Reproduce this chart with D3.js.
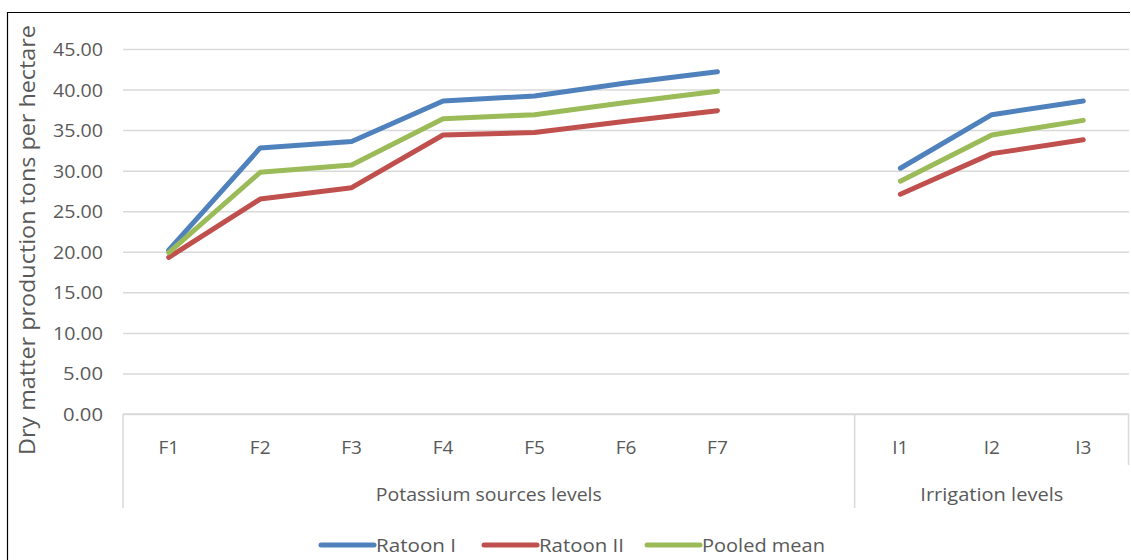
<!DOCTYPE html>
<html>
<head>
<meta charset="utf-8">
<script src="https://cdn.jsdelivr.net/npm/d3@7"></script>
<style>
  html, body { margin: 0; padding: 0; background: #fff; }
  svg { display: block; font-family: "Open Sans", sans-serif; }
</style>
</head>
<body>
<svg id="chart" width="1131" height="560"></svg>
<script>
// ---- data ----
const potassiumLevels = ["F1", "F2", "F3", "F4", "F5", "F6", "F7"];
const irrigationLevels = ["I1", "I2", "I3"];
const groupLabels = ["Potassium sources levels", "Irrigation levels"];
const seriesNames = ["Ratoon I", "Ratoon II", "Pooled mean"];
const seriesColors = ["#4F81BD", "#C0504D", "#9BBB59"];

const ratoon1Potassium = [20.2, 32.8, 33.6, 38.6, 39.2, 40.8, 42.2];
const ratoon2Potassium = [19.3, 26.5, 27.9, 34.4, 34.7, 36.1, 37.4];
const pooledPotassium  = [19.9, 29.8, 30.7, 36.4, 36.9, 38.4, 39.8];

const ratoon1Irrigation = [30.3, 36.9, 38.6];
const ratoon2Irrigation = [27.1, 32.1, 33.8];
const pooledIrrigation  = [28.7, 34.4, 36.2];

const yTicks = [0, 5, 10, 15, 20, 25, 30, 35, 40, 45];
const yTitle = "Dry matter production tons per hectare";

// ---- layout ----
const svg = d3.select("#chart");
const plotLeft = 123, plotRight = 1129, plotTop = 49, plotBottom = 414;
const textColor = "#595959";

const categories = [...potassiumLevels, "__gap__", ...irrigationLevels];
const x = d3.scaleBand().domain(categories).range([plotLeft, plotRight]).paddingInner(0).paddingOuter(0);
const y = d3.scaleLinear().domain([0, 45]).range([plotBottom, plotTop]);

// outer border (left/top visible)
svg.append("path")
  .attr("d", `M7.5,565 V12.5 H1130`)
  .attr("fill", "none").attr("stroke", "#000").attr("stroke-width", 1.2);

// gridlines + y labels via axis
const yAxis = d3.axisLeft(y).tickValues(yTicks).tickSize(-(plotRight - plotLeft)).tickFormat(d3.format(".2f")).tickPadding(20);
const gy = svg.append("g").attr("transform", `translate(${plotLeft},0)`).call(yAxis);
gy.select(".domain").remove();
gy.selectAll(".tick line").attr("stroke", "#D9D9D9").attr("stroke-width", 1.5);
gy.selectAll(".tick text").attr("fill", textColor).attr("font-size", 19)
  .attr("font-family", "Open Sans, sans-serif").attr("dy", "0.34em")
  .attr("textLength", 50).attr("lengthAdjust", "spacingAndGlyphs");
gy.selectAll(".tick text").filter(d => d < 10).attr("textLength", 40);

// x axis line
svg.append("line").attr("x1", plotLeft).attr("x2", plotRight).attr("y1", y(0)).attr("y2", y(0))
  .attr("stroke", "#D9D9D9").attr("stroke-width", 1.5);

// group dividers
const dividers = [[x(potassiumLevels[0]), 508], [x(irrigationLevels[0]), 508], [plotRight - 0.5, 465]];
svg.selectAll(".divider").data(dividers).enter().append("line")
  .attr("x1", d => d[0]).attr("x2", d => d[0]).attr("y1", y(0)).attr("y2", d => d[1])
  .attr("stroke", "#D9D9D9").attr("stroke-width", 1.5);

// category labels
const catLabels = [...potassiumLevels, ...irrigationLevels];
svg.selectAll(".cat").data(catLabels).enter().append("text")
  .attr("x", d => x(d) + x.bandwidth() / 2).attr("y", 454)
  .attr("text-anchor", "middle").attr("fill", textColor).attr("font-size", 19)
  .text(d => d);

// group labels
const groupCenters = [
  (x(potassiumLevels[0]) + x(irrigationLevels[0])) / 2,
  (x(irrigationLevels[0]) + plotRight) / 2
];
const groupWidths = [226, 143];
svg.selectAll(".grp").data(groupLabels).enter().append("text")
  .attr("x", (d, i) => groupCenters[i]).attr("y", 501)
  .attr("text-anchor", "middle").attr("fill", textColor).attr("font-size", 19)
  .attr("textLength", (d, i) => groupWidths[i]).attr("lengthAdjust", "spacingAndGlyphs")
  .text(d => d);

// y title
svg.append("text")
  .attr("transform", `translate(35,${(25 + 455) / 2}) rotate(-90)`)
  .attr("text-anchor", "middle").attr("fill", textColor).attr("font-size", 21)
  .attr("textLength", 430).attr("lengthAdjust", "spacingAndGlyphs")
  .text(yTitle);

// lines
const potassiumSeries = [ratoon1Potassium, ratoon2Potassium, pooledPotassium];
const irrigationSeries = [ratoon1Irrigation, ratoon2Irrigation, pooledIrrigation];
const line = d3.line().x(d => x(d[0]) + x.bandwidth() / 2).y(d => y(d[1]));
[0, 1, 2].forEach(i => {
  svg.append("path")
    .datum(potassiumLevels.map((c, k) => [c, potassiumSeries[i][k]]))
    .attr("d", line).attr("fill", "none").attr("stroke", seriesColors[i])
    .attr("stroke-width", 5).attr("stroke-linejoin", "round").attr("stroke-linecap", "round");
  svg.append("path")
    .datum(irrigationLevels.map((c, k) => [c, irrigationSeries[i][k]]))
    .attr("d", line).attr("fill", "none").attr("stroke", seriesColors[i])
    .attr("stroke-width", 5).attr("stroke-linejoin", "round").attr("stroke-linecap", "round");
});

// legend
const legendStarts = [321, 484, 647];
const legendWidths = [80, 85, 123];
const lg = svg.selectAll(".lg").data(seriesNames).enter().append("g")
  .attr("transform", (d, i) => `translate(${legendStarts[i]},545)`);
lg.append("line").attr("x1", 0).attr("x2", 53).attr("y1", 0).attr("y2", 0)
  .attr("stroke", (d, i) => seriesColors[i]).attr("stroke-width", 5).attr("stroke-linecap", "round");
lg.append("text").attr("x", 55).attr("y", 0).attr("dy", "0.35em")
  .attr("fill", textColor).attr("font-size", 19)
  .attr("textLength", (d, i) => legendWidths[i]).attr("lengthAdjust", "spacingAndGlyphs")
  .text(d => d);
</script>
</body>
</html>
